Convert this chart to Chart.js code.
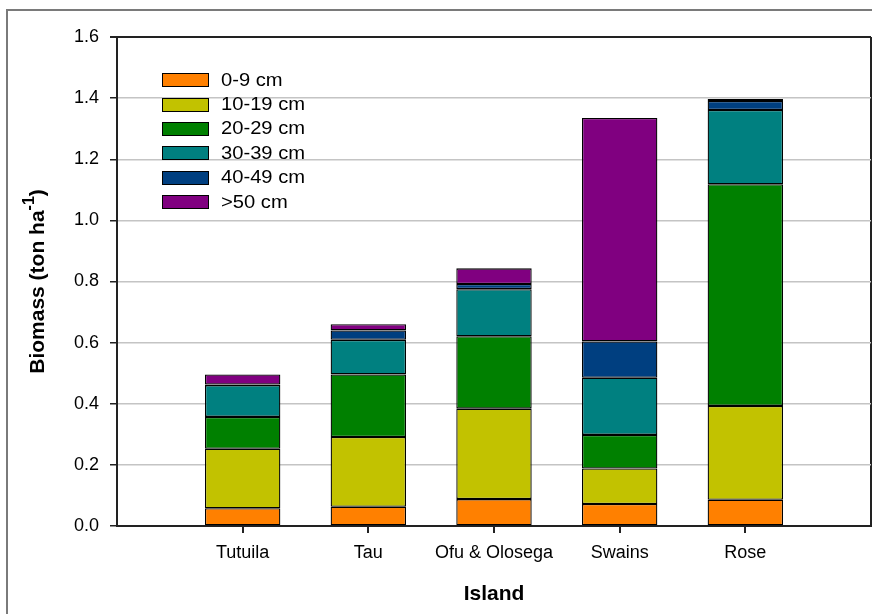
<!DOCTYPE html>
<html>
<head>
<meta charset="utf-8">
<script src="https://cdn.jsdelivr.net/npm/chart.js@4.4.1/dist/chart.umd.min.js"></script>
<style>
    html, body { margin: 0; padding: 0; background: #fff; overflow: hidden; }
    #wrap { position: relative; width: 872px; height: 614px; font-family: "Liberation Sans", Arial, sans-serif; }
    #frame { position: absolute; left: 6px; top: 9px; width: 1000px; height: 1000px;
             border-left: 2px solid #7a7a7a; border-top: 2px solid #7a7a7a; }
    #legend { position: absolute; left: 162px; top: 68px; }
    .item { display: flex; align-items: center; height: 24.4px; font-size: 18px; color: #000; }
    .box { width: 45px; height: 12px; border: 1px solid #000; margin-right: 12px; }
    .txt { display: inline-block; transform: scaleX(1.12); transform-origin: left center; }
</style>
</head>
<body>
<div id="wrap">
    <div id="frame"></div>
    <canvas id="chartBiomass" width="872" height="614"></canvas>
    <div id="legend"></div>
</div>
<script>
// ── Data ─────────────────────────────────────────────
const islands     = ['Tutuila', 'Tau', 'Ofu & Olosega', 'Swains', 'Rose'];
const sizeClasses = ['0-9 cm', '10-19 cm', '20-29 cm', '30-39 cm', '40-49 cm', '>50 cm'];
const size0_9     = [0.058, 0.063, 0.088, 0.072, 0.086];
const size10_19   = [0.195, 0.228, 0.296, 0.116, 0.307];
const size20_29   = [0.104, 0.205, 0.237, 0.110, 0.725];
const size30_39   = [0.104, 0.113, 0.154, 0.187, 0.243];
const size40_49   = [0.002, 0.031, 0.017, 0.119, 0.030];
const size50plus  = [0.033, 0.020, 0.051, 0.731, 0.006];
const yMax  = 1.6;
const yStep = 0.2;

const series = [size0_9, size10_19, size20_29, size30_39, size40_49, size50plus];
const colors = ['#ff8000', '#c2c200', '#008000', '#008080', '#003f80', '#800080'];

// empty slot on each side so the islands sit like the original
const labels = ['', ...islands, ''];

const FONT = '"Liberation Sans", Arial, sans-serif';

// y title with superscript
const yTitlePlugin = {
    id: 'yTitle',
    afterDraw(chart) {
        const { ctx, chartArea } = chart;
        const cy = (chartArea.top + chartArea.bottom) / 2;
        ctx.save();
        ctx.translate(38, cy);
        ctx.rotate(-Math.PI / 2);
        ctx.fillStyle = '#000';
        ctx.textBaseline = 'middle';
        const main = 'bold 21px ' + FONT;
        const sup  = 'bold 16px ' + FONT;
        ctx.font = main;
        const w1 = ctx.measureText('Biomass (ton ha').width;
        const w3 = ctx.measureText(')').width;
        ctx.font = sup;
        const w2 = ctx.measureText('-1').width;
        let x = -(w1 + w2 + w3) / 2;
        ctx.textAlign = 'left';
        ctx.font = main;
        ctx.fillText('Biomass (ton ha', x, 0);
        x += w1;
        ctx.font = sup;
        ctx.fillText('-1', x, -8);
        x += w2;
        ctx.font = main;
        ctx.fillText(')', x, 0);
        ctx.restore();
    },
};

const ctx = document.getElementById('chartBiomass');
const chart = new Chart(ctx.getContext('2d'), {
    type: 'bar',
    data: {
        labels,
        datasets: series.map((vals, i) => ({
            label:           sizeClasses[i],
            data:            [null, ...vals, null],
            backgroundColor: colors[i],
            borderColor:     '#000',
            borderWidth:     1.3,
            borderSkipped:   false,
            barPercentage:   0.6,
            categoryPercentage: 1,
        })),
    },
    options: {
        responsive: false,
        animation:  false,
        layout: { padding: { top: 37, right: 1, left: 0, bottom: 0 } },
        plugins: {
            legend:  { display: false },
            tooltip: { enabled: false },
        },
        scales: {
            x: {
                stacked: true,
                offset:  false,
                afterFit: s => { s.height = 88; s.paddingLeft = 0; s.paddingRight = 0; },
                grid: {
                    offset: false,
                    drawOnChartArea: true,
                    color:     c => c.index === labels.length - 1 ? '#222' : 'transparent',
                    tickColor: c => (c.index === 0 || c.index === labels.length - 1) ? 'transparent' : '#222',
                    tickLength: 7,
                    lineWidth: 2,
                },
                border: { color: '#222', width: 2 },
                ticks: {
                    autoSkip: false,
                    maxRotation: 0,
                    padding: 9,
                    color: '#000',
                    font: { family: FONT, size: 18 },
                },
                title: {
                    display: true,
                    text: 'Island',
                    color: '#000',
                    font: { family: FONT, size: 21, weight: 'bold' },
                    padding: { top: 0, bottom: 7 },
                },
            },
            y: {
                stacked: true,
                min: 0,
                max: yMax,
                afterFit: s => { s.width = 117; },
                grid: {
                    color: c => c.tick && Math.abs(c.tick.value - yMax) < 1e-6 ? '#222' : '#c4c4c4',
                    tickColor: '#222',
                    tickLength: 7,
                    lineWidth: c => c.tick && Math.abs(c.tick.value - yMax) < 1e-6 ? 2 : 1.5,
                },
                border: { color: '#222', width: 2 },
                ticks: {
                    stepSize: yStep,
                    padding: 11,
                    color: '#000',
                    font: { family: FONT, size: 18 },
                    callback: v => v.toFixed(1),
                },
            },
        },
    },
    plugins: [yTitlePlugin],
});

// ── Legend (HTML) ────────────────────────────────────
const legendEl = document.getElementById('legend');
chart.data.datasets.forEach(ds => {
    const row = document.createElement('div');
    row.className = 'item';
    const box = document.createElement('span');
    box.className = 'box';
    box.style.background = ds.backgroundColor;
    const txt = document.createElement('span');
    txt.className = 'txt';
    txt.textContent = ds.label;
    row.appendChild(box);
    row.appendChild(txt);
    legendEl.appendChild(row);
});
</script>
</body>
</html>
